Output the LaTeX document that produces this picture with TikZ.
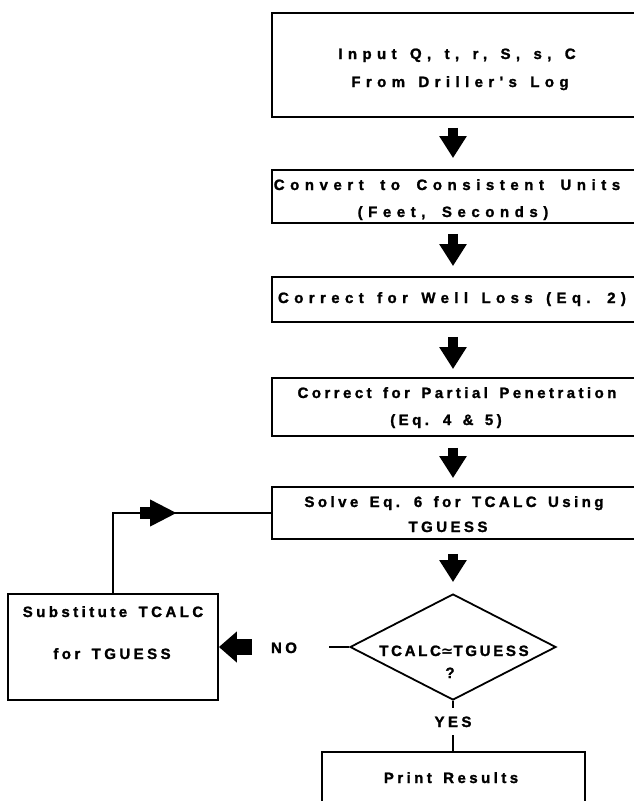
\documentclass[tikz,border=0pt]{standalone}
\usepackage{fontspec}
\setmainfont{Liberation Sans}
\newfontfamily\widefont{Liberation Sans}[LetterSpace=37,WordSpace=1.7,BoldFeatures={FakeBold=1.5}]
\newfontfamily\wideBfont{Liberation Sans}[LetterSpace=36,WordSpace=1.4,BoldFeatures={FakeBold=1.5}]
\newfontfamily\medfont{Liberation Sans}[LetterSpace=23,WordSpace=1.5,BoldFeatures={FakeBold=1.5}]
\newfontfamily\narfont{Liberation Sans}[LetterSpace=18,BoldFeatures={FakeBold=1.5}]
\newfontfamily\symfont{DejaVu Sans}
\usetikzlibrary{shapes.geometric,arrows.meta,calc}
\tikzset{
  box/.style={draw, line width=1.8pt, rectangle, inner sep=0pt},
  dmd/.style={draw, line width=1.8pt, diamond, inner sep=0pt},
  conn/.style={line width=1.8pt},
  txtbase/.style={inner sep=0pt, text height=10pt, text depth=0pt},
  wtxt/.style={txtbase, font=\widefont\bfseries\fontsize{15}{17}\selectfont},
  wbtxt/.style={txtbase, font=\wideBfont\bfseries\fontsize{15}{17}\selectfont},
  mtxt/.style={txtbase, font=\medfont\bfseries\fontsize{15}{17}\selectfont},
  ntxt/.style={txtbase, font=\narfont\bfseries\fontsize{15}{17}\selectfont},
  blk/.style={line width=10pt, -{Triangle[width=26pt,length=22pt]}},
  blkR/.style={line width=12pt, -{Triangle[width=25pt,length=27pt]}},
  blkL/.style={line width=16pt, -{Triangle[width=30pt,length=18pt]}},
}
\begin{document}
\begin{tikzpicture}[x=1pt,y=-1pt]
\useasboundingbox (0,0) rectangle (634,801);
\clip (0,0) rectangle (634,801);
% boxes
\node[box, minimum width=388pt, minimum height=104pt] (b1) at (466,65) {};
\node[box, minimum width=388pt, minimum height=53pt] (b2) at (466,196.5) {};
\node[box, minimum width=388pt, minimum height=45pt] (b3) at (466,299.5) {};
\node[box, minimum width=388pt, minimum height=58pt] (b4) at (466,407) {};
\node[box, minimum width=388pt, minimum height=52pt] (b5) at (466,513) {};
\node[box, minimum width=210pt, minimum height=106pt] (sub) at (113,647) {};
\node[dmd, minimum width=206pt, minimum height=106pt] (dia) at (453,647) {};
\node[box, minimum width=263pt, minimum height=68pt] (pr) at (453.5,786) {};
% texts
\node[wbtxt] (t1a) at (457,54) {Input Q, t, r, S, s, C};
\node[wbtxt] (t1b) at (460,82) {From Driller's Log};
\node[wtxt] (t2a) at (447,185) {Convert to Consistent Units};
\node[wtxt] (t2b) at (453,212) {(Feet, Seconds)};
\node[wbtxt] (t3) at (452,298) {Correct for Well Loss (Eq. 2)};
\node[mtxt] (t4a) at (457,393) {Correct for Partial Penetration};
\node[mtxt] (t4b) at (446,420) {(Eq. 4 \& 5)};
\node[mtxt] (t5a) at (454,502) {Solve Eq. 6 for TCALC Using};
\node[mtxt] (t5b) at (448,527) {TGUESS};
\node[mtxt] (s1) at (113,612) {Substitute TCALC};
\node[mtxt] (s2) at (112,654) {for TGUESS};
\node[mtxt] (no) at (284,648) {NO};
\node[ntxt] (d1) at (454,651) {TCALC{\symfont\bfseries ≃}TGUESS};
\node[mtxt] (d2) at (450,673) {?};
\node[mtxt] (yes) at (453,722) {YES};
\node[mtxt] (prt) at (451,778) {Print Results};
% block arrows between boxes
\draw[blk] ([yshift=-10pt]b1.south -| dia.north) -- ([yshift=11pt]b2.north -| dia.north);
\draw[blk] ([yshift=-10pt]b2.south -| dia.north) -- ([yshift=10pt]b3.north -| dia.north);
\draw[blk] ([yshift=-14pt]b3.south -| dia.north) -- ([yshift=8pt]b4.north -| dia.north);
\draw[blk] ([yshift=-11pt]b4.south -| dia.north) -- ([yshift=8pt]b5.north -| dia.north);
\draw[blk] ([yshift=-14pt]b5.south -| dia.north) -- ([yshift=11pt]dia.north);
% feedback loop
\coordinate (corner) at (b5.west -| sub.north);
\draw[conn] (b5.west) -- (corner) -- (sub.north);
\draw[blkR] ([xshift=27pt]corner) -- ([xshift=64pt]corner);
% NO branch
\coordinate (nostub) at ([xshift=-20pt]dia.west);
\draw[conn] (dia.west) -- (nostub);
\draw[blkL] ([xshift=33pt]sub.east) -- (sub.east);
% YES branch
\coordinate (yesstub) at ([yshift=-7pt]dia.south);
\draw[conn] (dia.south) -- (yesstub);
\draw[conn] ([yshift=-8pt]yes.south) -- (yes.south |- pr.north);
\end{tikzpicture}
\end{document}
